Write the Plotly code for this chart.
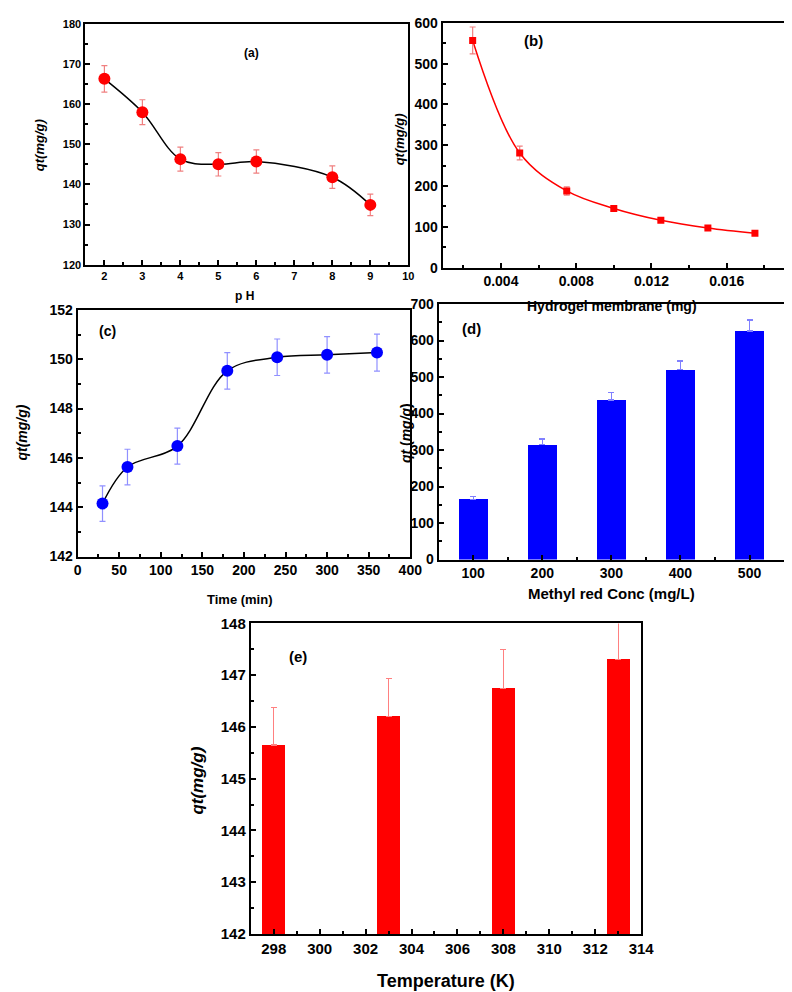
import plotly.graph_objects as go

W, H = 792, 992
FONT = "Liberation Sans, Arial, sans-serif"

# ---------------- data ----------------
ph = [2, 3, 4, 5, 6, 8, 9]
qt_ph = [166.3, 158.0, 146.3, 145.0, 145.7, 141.8, 134.9]
err_ph = [3.3, 3.1, 3.0, 2.9, 2.9, 2.8, 2.7]

dose = [0.0025, 0.005, 0.0075, 0.010, 0.0125, 0.015, 0.0175]
qt_dose = [557, 281, 188, 145, 116, 97, 84]
err_dose = [33, 17, 10, 6, 4, 3, 2]

time_min = [30, 60, 120, 180, 240, 300, 360]
qt_time = [144.15, 145.63, 146.48, 149.53, 150.08, 150.18, 150.27]
err_time = [0.72, 0.72, 0.73, 0.74, 0.74, 0.74, 0.75]

conc = [100, 200, 300, 400, 500]
qt_conc = [165, 315, 437, 520, 626]
err_conc = [8, 15, 21, 24, 30]

temp = [298, 303, 308, 313]
qt_temp = [145.65, 146.2, 146.75, 147.31]
err_temp = [0.73, 0.74, 0.74, 0.74]


def xd(a, b):
    return [a / W, b / W]


def yd(top, bottom):
    return [1 - bottom / H, 1 - top / H]


def axis(domain, rng, dtick, minor, anchor, size, tick0=None, tickvals=None, ticktext=None):
    d = dict(domain=domain, range=rng, anchor=anchor, showline=True, linecolor="black",
             linewidth=2, mirror=True, ticks="inside", ticklen=5, tickwidth=1.5,
             tickcolor="black", showgrid=False, zeroline=False,
             tickfont=dict(family=FONT, size=size, color="black", weight="bold"),
             minor=dict(ticks="inside", ticklen=3, tickwidth=1.5, tickcolor="black",
                        dtick=minor, showgrid=False))
    if dtick is not None:
        d["dtick"] = dtick
    if tick0 is not None:
        d["tick0"] = tick0
        d["minor"]["tick0"] = tick0
    if tickvals is not None:
        d["tickmode"] = "array"
        d["tickvals"] = tickvals
        if ticktext is not None:
            d["ticktext"] = ticktext
    return d


fig = go.Figure()

# (a)
fig.add_trace(go.Scatter(x=ph, y=qt_ph, mode="lines", line=dict(color="black", width=1.5, shape="spline", smoothing=1.0),
                         xaxis="x", yaxis="y", showlegend=False))
fig.add_trace(go.Scatter(x=ph, y=qt_ph, mode="markers", marker=dict(color="#ff0000", size=12),
                         error_y=dict(type="data", array=err_ph, color="#f08080", thickness=1.2, width=3),
                         xaxis="x", yaxis="y", showlegend=False))
# (b)
fig.add_trace(go.Scatter(x=dose, y=qt_dose, mode="lines", line=dict(color="#ff0000", width=1.5, shape="spline", smoothing=1.0),
                         xaxis="x2", yaxis="y2", showlegend=False))
fig.add_trace(go.Scatter(x=dose, y=qt_dose, mode="markers", marker=dict(color="#ff0000", size=7, symbol="square"),
                         error_y=dict(type="data", array=err_dose, color="#f08080", thickness=1.2, width=3),
                         xaxis="x2", yaxis="y2", showlegend=False))
# (c)
fig.add_trace(go.Scatter(x=time_min, y=qt_time, mode="lines", line=dict(color="black", width=1.5, shape="spline", smoothing=1.0),
                         xaxis="x3", yaxis="y3", showlegend=False))
fig.add_trace(go.Scatter(x=time_min, y=qt_time, mode="markers", marker=dict(color="#0000ff", size=12),
                         error_y=dict(type="data", array=err_time, color="#9090ff", thickness=1.2, width=3),
                         xaxis="x3", yaxis="y3", showlegend=False))
# (d)
fig.add_trace(go.Bar(x=conc, y=qt_conc, width=42, marker=dict(color="#0000ff", line=dict(width=0)),
                     error_y=dict(type="data", array=err_conc, arrayminus=[0] * len(err_conc), symmetric=False,
                                  color="#8080ff", thickness=1.2, width=3),
                     xaxis="x4", yaxis="y4", showlegend=False))
# (e)
fig.add_trace(go.Bar(x=temp, y=qt_temp, width=1.0, marker=dict(color="#ff0000", line=dict(width=0)),
                     error_y=dict(type="data", array=err_temp, arrayminus=[0] * len(err_temp), symmetric=False,
                                  color="#ff8080", thickness=1.2, width=3),
                     xaxis="x5", yaxis="y5", showlegend=False))

layout = dict(
    width=W, height=H, margin=dict(l=0, r=0, t=0, b=0),
    paper_bgcolor="white", plot_bgcolor="white", bargap=0,
    xaxis=axis(xd(75, 405), [1.5, 10], 1, 0.5, "y", 11, tick0=0,
               tickvals=[2, 3, 4, 5, 6, 7, 8, 9, 10]),
    yaxis=axis(yd(7, 252), [120, 180], 10, 5, "x", 11, tick0=0),
    xaxis2=axis(xd(440, 790), [0.0009, 0.0191], None, 0.002, "y2", 14, tick0=0,
                tickvals=[0.004, 0.008, 0.012, 0.016], ticktext=["0.004", "0.008", "0.012", "0.016"]),
    yaxis2=axis(yd(6, 255), [0, 600], 100, 50, "x2", 14, tick0=0),
    xaxis3=axis(xd(67, 407), [0, 400], 50, 25, "y3", 14, tick0=0),
    yaxis3=axis(yd(298, 549), [142, 152], 2, 1, "x3", 14, tick0=0),
    xaxis4=axis(xd(436, 789), [50, 550], 100, 50, "y4", 14, tick0=0),
    yaxis4=axis(yd(292, 552), [0, 700], 100, 50, "x4", 14, tick0=0),
    xaxis5=axis(xd(244, 643), [297, 314], 2, 1, "y5", 15, tick0=0),
    yaxis5=axis(yd(617, 933), [142, 148], 1, 0.5, "x5", 15, tick0=0),
)


def ann(text, x, y, size, angle=0):
    return dict(text=text, x=x / W, y=1 - y / H, xref="paper", yref="paper", showarrow=False,
                xanchor="center", yanchor="middle", textangle=angle,
                font=dict(family=FONT, size=size, color="black"))


layout["annotations"] = [
    ann("<b>(a)</b>", 245, 37, 12),
    ann("<b>p H</b>", 238, 284, 12),
    ann("<b><i>qt(mg/g)</i></b>", 28, 130, 13, -90),
    ann("<b>(b)</b>", 533, 24, 15),
    ann("<b>Hydrogel membrane (mg)</b>", 613, 294, 14),
    ann("<b><i>qt(mg/g)</i></b>", 396, 125, 13, -90),
    ann("<b>(c)</b>", 98, 319, 14),
    ann("<b><i>qt(mg/g)</i></b>", 10, 423, 14, -90),
    ann("<b>Time (min)</b>", 233, 593, 13),
    ann("<b>(d)</b>", 470, 317, 15),
    ann("<b><i>qt</i> (<i>mg/g</i>)</b>", 402, 423, 14, -90),
    ann("<b>Methyl red Conc (mg/L)</b>", 613, 587, 15),
    ann("<b>(e)</b>", 292, 651, 15),
    ann("<b><i>qt(mg/g)</i></b>", 190, 777, 17, -90),
    ann("<b>Temperature (K)</b>", 444, 981, 18),
]

fig.update_layout(**layout)
fig.write_html("out.html")
